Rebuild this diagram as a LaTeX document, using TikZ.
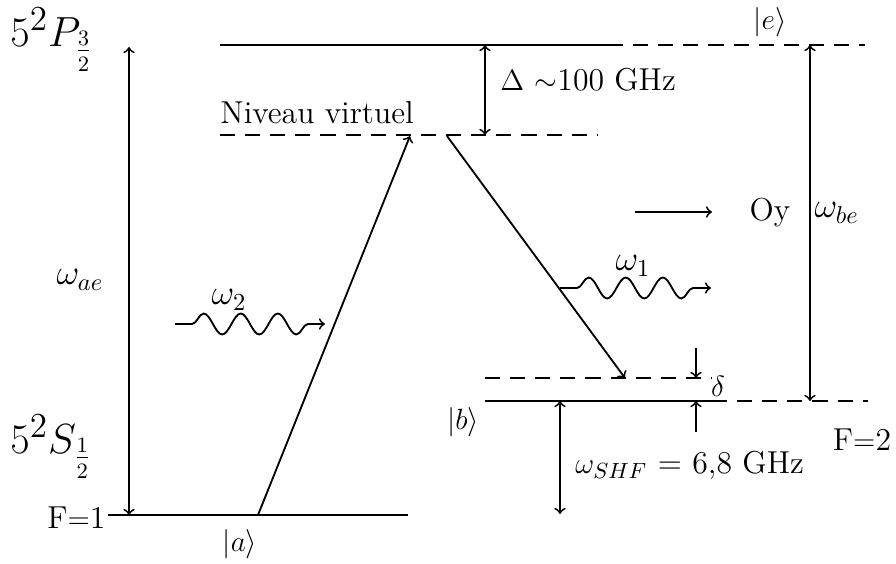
\documentclass[tikz,border=0pt]{standalone}
\usetikzlibrary{decorations.pathmorphing}
\begin{document}
\begin{tikzpicture}[x=0.41pt,y=-0.41pt,
  level/.style={line width=0.9pt},
  dlevel/.style={line width=0.9pt, dash pattern=on 6.2pt off 4.1pt},
  trans/.style={line width=0.75pt,->},
  dbl/.style={line width=0.75pt,<->},
  wave/.style={line width=0.75pt,->,decorate,decoration={snake,amplitude=4.3pt,segment length=15.2pt,pre length=7pt,post length=5pt}},
  lab/.style={inner sep=0pt,font=\fontsize{13}{15}\selectfont},
  wlab/.style={inner sep=0pt,font=\fontsize{14}{16}\selectfont},
  biglab/.style={inner sep=0pt,font=\fontsize{19}{23}\selectfont}]
\useasboundingbox (0,0) rectangle (896,563);
% level endpoints
\coordinate (e1) at (220,45); \coordinate (e2) at (608,45); \coordinate (e3) at (865,45);
\coordinate (v1) at (220,135); \coordinate (v2) at (598,135);
\coordinate (d1) at (485,378); \coordinate (d2) at (712,378);
\coordinate (b1) at (485,401); \coordinate (b2) at (712,401); \coordinate (b3) at (868,401);
\coordinate (a1) at (108,515); \coordinate (a2) at (408,515);
% levels
\draw[level] (e1) -- (e2);
\draw[dlevel] (e2) -- (e3);
\draw[dlevel] (v1) -- (v2);
\draw[dlevel] (d1) -- (d2);
\draw[level] (b1) -- (b2);
\draw[dlevel] (b2) -- (b3);
\draw[level] (a1) -- (a2);
% arrow endpoints
\coordinate (aeT) at (129,47); \coordinate (aeB) at (129,515);
\coordinate (DT) at (485,45); \coordinate (DB) at (485,135);
\coordinate (beT) at (810,45); \coordinate (beB) at (810,401);
\coordinate (sT) at (560,401); \coordinate (sB) at (560,514);
\coordinate (dd1) at (696,348); \coordinate (dd2) at (696,378);
\coordinate (du1) at (696,432); \coordinate (du2) at (696,401);
\coordinate (x1) at (258,515); \coordinate (x2) at (410,136);
\coordinate (m1) at (447,136); \coordinate (m2) at (625,378);
\coordinate (o1) at (635,212); \coordinate (o2) at (712,212);
\coordinate (w2a) at (175,324); \coordinate (w2b) at (325,324);
\coordinate (w1a) at (560,288); \coordinate (w1b) at (711,288);
% arrows
\draw[dbl] (aeT) -- (aeB);
\draw[dbl] (DT) -- (DB);
\draw[dbl] (beT) -- (beB);
\draw[dbl] (sT) -- (sB);
\draw[trans] (dd1) -- (dd2);
\draw[trans] (du1) -- (du2);
\draw[trans] (x1) -- (x2);
\draw[trans] (m1) -- (m2);
\draw[trans] (o1) -- (o2);
\draw[wave] (w2a) -- (w2b);
\draw[wave] (w1a) -- (w1b);
% labels
\node[biglab,anchor=west] (P) at (10,40) {$5^2P_{\frac{3}{2}}$};
\node[biglab,anchor=west] (S) at (10,447) {$5^2S_{\frac{1}{2}}$};
\node[lab,anchor=east] (F1) at (106,518) {F$=$1};
\node[lab] (la) at (240,544) {$|a\rangle$};
\node[lab] (lb) at (463,422) {$|b\rangle$};
\node[lab] (le) at (770,22) {$|e\rangle$};
\node[lab] (dl) at (718,386) {$\delta$};
\node[lab] (F2) at (862,440) {F$=$2};
\node[lab,anchor=west] (shf) at (575,465) {$\omega_{SHF}$ = 6,8 GHz};
\node[lab,anchor=west] (Dl) at (500,80) {$\Delta$ $\sim$100 GHz};
\node[lab,anchor=west] (nv) at (220,113) {Niveau virtuel};
\node[wlab] (wae) at (80,280) {$\omega_{ae}$};
\node[wlab,anchor=west] (wbe) at (814,213) {$\omega_{be}$};
\node[wlab] (w2) at (229,300) {$\omega_2$};
\node[wlab] (w1) at (633,266) {$\omega_1$};
\node[lab] (oy) at (770,213) {Oy};
\end{tikzpicture}
\end{document}
